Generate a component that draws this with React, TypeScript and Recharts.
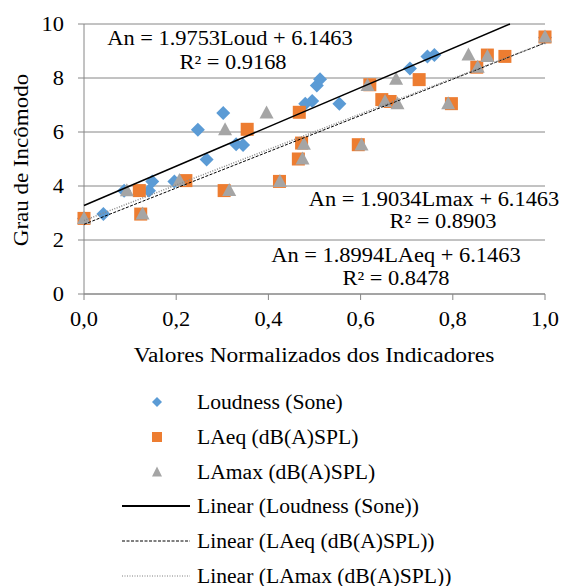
import React from 'react';
import { ScatterChart, Scatter, XAxis, YAxis, CartesianGrid } from 'recharts';

// normalized indicator value (x) vs annoyance grade (y)
const loudness = [
    { x: 0.0, y: 2.8 }, { x: 0.042, y: 2.96 }, { x: 0.087, y: 3.82 }, { x: 0.141, y: 3.82 },
    { x: 0.148, y: 4.17 }, { x: 0.196, y: 4.17 }, { x: 0.247, y: 6.08 }, { x: 0.266, y: 4.98 },
    { x: 0.302, y: 6.7 }, { x: 0.33, y: 5.55 }, { x: 0.345, y: 5.52 }, { x: 0.48, y: 7.05 },
    { x: 0.495, y: 7.15 }, { x: 0.505, y: 7.72 }, { x: 0.512, y: 7.95 }, { x: 0.554, y: 7.05 },
    { x: 0.707, y: 8.35 }, { x: 0.745, y: 8.8 }, { x: 0.76, y: 8.85 }, { x: 1.0, y: 9.5 },
];

const laeq = [
    { x: 0.0, y: 2.8 }, { x: 0.12, y: 3.83 }, { x: 0.123, y: 2.96 }, { x: 0.221, y: 4.2 },
    { x: 0.304, y: 3.83 }, { x: 0.354, y: 6.1 }, { x: 0.424, y: 4.17 }, { x: 0.465, y: 5.0 },
    { x: 0.472, y: 5.59 }, { x: 0.467, y: 6.73 }, { x: 0.595, y: 5.53 }, { x: 0.62, y: 7.75 },
    { x: 0.646, y: 7.2 }, { x: 0.664, y: 7.13 }, { x: 0.727, y: 7.94 }, { x: 0.797, y: 7.05 },
    { x: 0.852, y: 8.4 }, { x: 0.875, y: 8.85 }, { x: 0.913, y: 8.8 }, { x: 1.0, y: 9.52 },
];

const lamax = [
    { x: 0.0, y: 2.8 }, { x: 0.093, y: 3.82 }, { x: 0.127, y: 2.96 }, { x: 0.207, y: 4.2 },
    { x: 0.306, y: 6.08 }, { x: 0.315, y: 3.83 }, { x: 0.396, y: 6.7 }, { x: 0.425, y: 4.17 },
    { x: 0.474, y: 5.0 }, { x: 0.477, y: 5.55 }, { x: 0.602, y: 5.52 }, { x: 0.615, y: 7.72 },
    { x: 0.653, y: 7.13 }, { x: 0.677, y: 7.95 }, { x: 0.68, y: 7.05 }, { x: 0.79, y: 7.05 },
    { x: 0.834, y: 8.85 }, { x: 0.854, y: 8.4 }, { x: 0.875, y: 8.8 }, { x: 1.0, y: 9.52 },
];

// trend line end points
const loudnessTrend = [{ x: 0, y: 3.28 }, { x: 0.924, y: 10 }];
const laeqTrend = [{ x: 0, y: 2.58 }, { x: 1, y: 9.3 }];
const lamaxTrend = [{ x: 0, y: 2.72 }, { x: 1, y: 9.3 }];

const xTicks = [0, 0.2, 0.4, 0.6, 0.8, 1.0];
const yTicks = [0, 2, 4, 6, 8, 10];

const BLUE = '#5B9BD5';
const ORANGE = '#ED7D31';
const GRAY = '#A5A5A5';
const AXIS = '#868686';
const FONT = "'Liberation Serif', 'DejaVu Serif', serif";
const STRETCH = 1.12; // the original text is set a bit wider than Liberation Serif

const Diamond = (p: any) => (
    <polygon points={`${p.cx},${p.cy - 7} ${p.cx + 7},${p.cy} ${p.cx},${p.cy + 7} ${p.cx - 7},${p.cy}`} fill={BLUE} />
);
const Square = (p: any) => <rect x={p.cx - 6.5} y={p.cy - 6.5} width={13} height={13} fill={ORANGE} />;
const Triangle = (p: any) => (
    <polygon points={`${p.cx},${p.cy - 7.5} ${p.cx + 7},${p.cy + 5.5} ${p.cx - 7},${p.cy + 5.5}`} fill={GRAY} />
);
const NoDot = () => <g />;

const XTick = ({ x, y, payload }: any) => (
    <text transform={`translate(${x},${y}) scale(${STRETCH},1)`} textAnchor="middle" dy="0.71em"
        fontSize={20} fontFamily={FONT} fill="#000">
        {Number(payload.value).toFixed(1).replace('.', ',')}
    </text>
);
const YTick = ({ x, y, payload }: any) => (
    <text transform={`translate(${x},${y}) scale(${STRETCH},1)`} textAnchor="end" dy="0.355em"
        fontSize={20} fontFamily={FONT} fill="#000">
        {payload.value}
    </text>
);

const textAt = (txt: React.ReactNode, cx: number, cy: number, sx = STRETCH) => (
    <div style={{
        position: 'absolute', left: cx - 200, width: 400, top: cy - 12, lineHeight: '24px',
        textAlign: 'center', fontSize: 20, fontFamily: FONT, color: '#000', whiteSpace: 'nowrap',
        transform: `scaleX(${sx})`
    }}>{txt}</div>
);

const legendItems = [
    { label: 'Loudness (Sone)', kind: 'diamond' },
    { label: 'LAeq (dB(A)SPL)', kind: 'square' },
    { label: 'LAmax (dB(A)SPL)', kind: 'triangle' },
    { label: 'Linear (Loudness (Sone))', kind: 'solid' },
    { label: 'Linear (LAeq (dB(A)SPL))', kind: 'dashed' },
    { label: 'Linear (LAmax (dB(A)SPL))', kind: 'dotted' },
];

const LegendIcon = ({ kind }: { kind: string }) => {
    if (kind === 'diamond') return <svg width={70} height={20}><polygon points="35,5 40,10 35,15 30,10" fill={BLUE} /></svg>;
    if (kind === 'square') return <svg width={70} height={20}><rect x={30} y={5} width={10} height={10} fill={ORANGE} /></svg>;
    if (kind === 'triangle') return <svg width={70} height={20}><polygon points="35,4.5 40,14.5 30,14.5" fill={GRAY} /></svg>;
    const dash = kind === 'dashed' ? '3 1.5' : kind === 'dotted' ? '1 1.5' : undefined;
    const stroke = kind === 'dotted' ? '#7f7f7f' : '#000';
    return <svg width={70} height={20}><line x1={0} x2={68} y1={10} y2={10} stroke={stroke} strokeWidth={kind === 'solid' ? 2 : 1} strokeDasharray={dash} /></svg>;
};

export default function App() {
    return (
        <div style={{ position: 'absolute', left: 0, top: 0, width: 563, height: 586, background: '#fff', overflow: 'hidden' }}>
            <ScatterChart width={563} height={586} margin={{ top: 24, right: 18, bottom: 262, left: 0 }}>
                <CartesianGrid vertical={false} stroke={AXIS} strokeWidth={1} />
                <XAxis type="number" dataKey="x" domain={[0, 1]} ticks={xTicks} height={30}
                    stroke={AXIS} tickSize={6} tickMargin={12} tick={<XTick />} />
                <YAxis type="number" dataKey="y" domain={[0, 10]} ticks={yTicks} width={84}
                    stroke={AXIS} tickSize={6} tickMargin={14} tick={<YTick />} />
                <Scatter data={loudness} shape={Diamond} isAnimationActive={false} />
                <Scatter data={laeq} shape={Square} isAnimationActive={false} />
                <Scatter data={lamax} shape={Triangle} isAnimationActive={false} />
                <Scatter data={loudnessTrend} shape={NoDot} line={{ stroke: '#000', strokeWidth: 1.5 }} isAnimationActive={false} />
                <Scatter data={laeqTrend} shape={NoDot} line={{ stroke: '#000', strokeWidth: 1, strokeDasharray: '3 1.5' }} isAnimationActive={false} />
                <Scatter data={lamaxTrend} shape={NoDot} line={{ stroke: '#8a8a8a', strokeWidth: 1.5, strokeDasharray: '1 1.5' }} isAnimationActive={false} />
            </ScatterChart>

            {textAt('An = 1.9753Loud + 6.1463', 230, 38)}
            {textAt(<>R² = 0.9168</>, 233, 62)}
            {textAt('An = 1.9034Lmax + 6.1463', 434, 199)}
            {textAt(<>R² = 0.8903</>, 443, 221)}
            {textAt('An = 1.8994LAeq + 6.1463', 396, 255)}
            {textAt(<>R² = 0.8478</>, 396, 278)}

            {textAt('Valores Normalizados dos Indicadores', 314, 355, 1.17)}
            <div style={{
                position: 'absolute', left: 21 - 100, top: 160 - 12, width: 200, lineHeight: '24px',
                textAlign: 'center', fontSize: 20, fontFamily: FONT, color: '#000',
                transform: 'rotate(-90deg) scaleX(1.15)', whiteSpace: 'nowrap'
            }}>Grau de Incômodo</div>

            <div style={{ position: 'absolute', left: 122, top: 385 }}>
                {legendItems.map((it) => (
                    <div key={it.label} style={{ display: 'flex', alignItems: 'center', height: 34.7 }}>
                        <LegendIcon kind={it.kind} />
                        <span style={{
                            marginLeft: 5, fontSize: 20, lineHeight: '22px', fontFamily: FONT, color: '#000',
                            whiteSpace: 'nowrap', display: 'inline-block', transform: 'scaleX(1.08)', transformOrigin: 'left center'
                        }}>{it.label}</span>
                    </div>
                ))}
            </div>
        </div>
    );
}
